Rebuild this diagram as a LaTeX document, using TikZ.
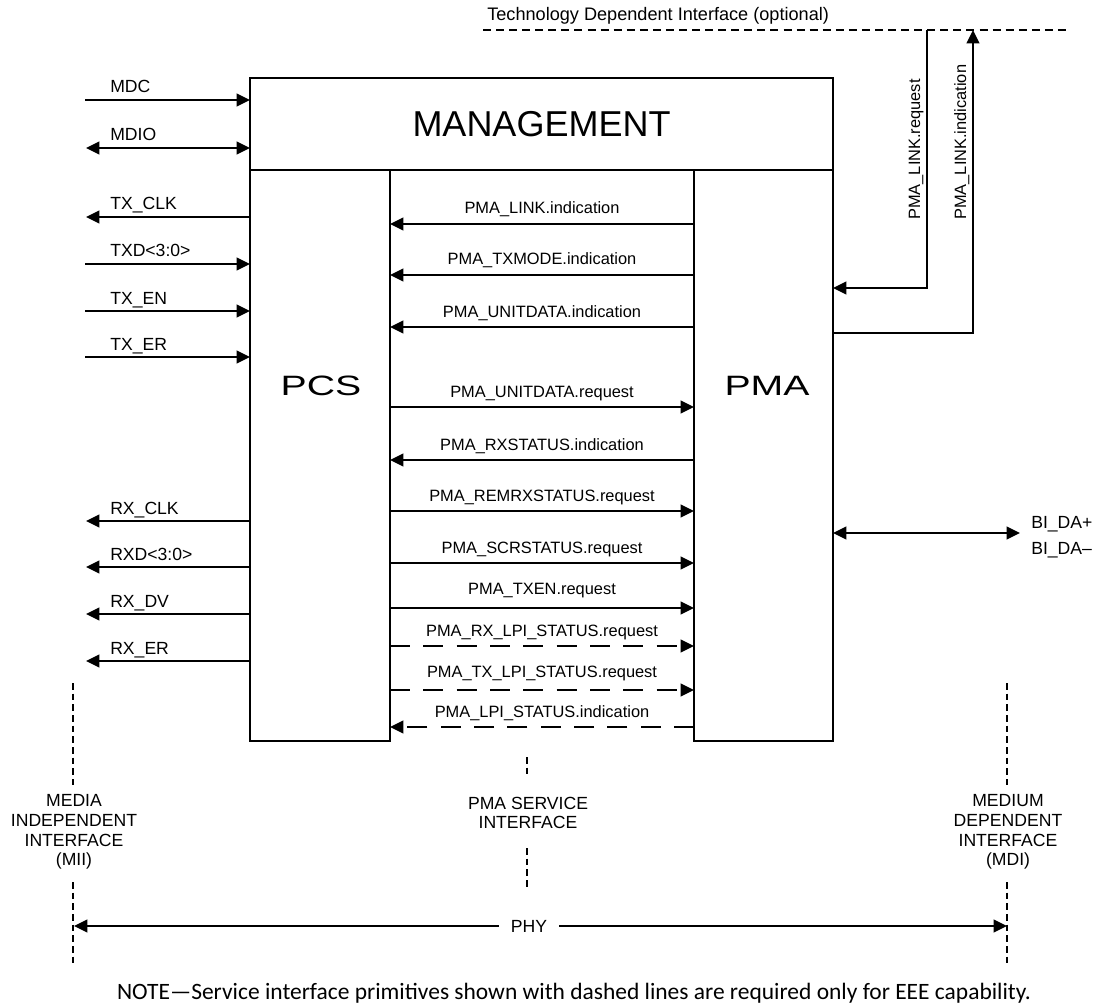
\documentclass[tikz,border=0pt]{standalone}
\usepackage{fontspec}
\setmainfont{Liberation Sans}
\newfontfamily\notefont{Carlito}
\usetikzlibrary{arrows.meta}
\begin{document}
\begin{tikzpicture}[x=0.75pt,y=-0.75pt,
  box/.style={draw, line width=1.9pt, inner sep=0pt, outer sep=0pt},
  sig/.style={line width=1.5pt, -{Triangle[length=10pt,width=9.5pt]}},
  bisig/.style={line width=1.5pt, {Triangle[length=10pt,width=9.5pt]}-{Triangle[length=10pt,width=9.5pt]}},
  dsig/.style={sig, dash pattern=on 15pt off 10pt},
  ifc/.style={line width=1.1pt, dash pattern=on 5pt off 3pt},
  tdline/.style={line width=1.1pt, dash pattern=on 6pt off 3.8pt},
  llbl/.style={font=\fontsize{13.2}{15}\selectfont, anchor=base west, inner sep=0pt},
  mlbl/.style={font=\fontsize{12.3}{15}\selectfont, anchor=base, inner sep=0pt, yshift=7.5pt},
  rlbl/.style={font=\fontsize{12.3}{15}\selectfont, anchor=base west, inner sep=0pt, rotate=90},
  iflbl/.style={font=\fontsize{13.2}{14.8}\selectfont, align=center, inner sep=0pt},
  biglbl/.style={font=\fontsize{21}{24}\selectfont, inner sep=0pt},
]
\useasboundingbox[fill=white] (0,0) rectangle (1094,1005);

% ---------- boxes ----------
\node[box, minimum width=437.25pt, minimum height=69pt,
      font=\fontsize{27}{30}\selectfont] (mgmt) at (541.5,124) {MANAGEMENT};
\node[box, minimum width=105pt, minimum height=428.25pt] (pcs) at (320,455.5) {};
\node[box, minimum width=104.25pt, minimum height=428.25pt] (pma) at (763.5,455.5) {};
\node[biglbl] (pcst) at (321,386) {\scalebox{1.4}[1]{PCS}};
\node[biglbl] (pmat) at (767,386) {\scalebox{1.4}[1]{PMA}};

% ---------- left (MII) signals ----------
\coordinate (mdc)   at (85,100);
\coordinate (mdio)  at (86,148);
\coordinate (txclk) at (86,217);
\coordinate (txd)   at (85,264);
\coordinate (txen)  at (85,311);
\coordinate (txer)  at (85,357);
\coordinate (rxclk) at (86,521);
\coordinate (rxd)   at (86,567);
\coordinate (rxdv)  at (86,614);
\coordinate (rxer)  at (86,661);

\draw[sig]   (mdc) -- (mdc -| mgmt.west);
\draw[bisig] (mdio) -- (mdio -| mgmt.west);
\draw[sig]   (txclk -| pcs.west) -- (txclk);
\draw[sig]   (txd) -- (txd -| pcs.west);
\draw[sig]   (txen) -- (txen -| pcs.west);
\draw[sig]   (txer) -- (txer -| pcs.west);
\draw[sig]   (rxclk -| pcs.west) -- (rxclk);
\draw[sig]   (rxd -| pcs.west) -- (rxd);
\draw[sig]   (rxdv -| pcs.west) -- (rxdv);
\draw[sig]   (rxer -| pcs.west) -- (rxer);

\node[llbl] (lmdc)   at (110,93)  {MDC};
\node[llbl] (lmdio)  at (110,141) {MDIO};
\node[llbl] (ltxclk) at (110,210) {TX\_CLK};
\node[llbl] (ltxd)   at (110,257) {TXD<3:0>};
\node[llbl] (ltxen)  at (110,304) {TX\_EN};
\node[llbl] (ltxer)  at (110,350) {TX\_ER};
\node[llbl] (lrxclk) at (110,514) {RX\_CLK};
\node[llbl] (lrxd)   at (110,560) {RXD<3:0>};
\node[llbl] (lrxdv)  at (110,607) {RX\_DV};
\node[llbl] (lrxer)  at (110,654) {RX\_ER};

% ---------- PCS <-> PMA primitives ----------
\coordinate (m1)  at (0,224);
\coordinate (m2)  at (0,275);
\coordinate (m3)  at (0,327);
\coordinate (m4)  at (0,407);
\coordinate (m5)  at (0,460);
\coordinate (m6)  at (0,511);
\coordinate (m7)  at (0,563);
\coordinate (m8)  at (0,608);
\coordinate (m9)  at (0,646);
\coordinate (m10) at (0,690);
\coordinate (m11) at (0,727);

\draw[sig]  (pma.west |- m1) -- (pcs.east |- m1) node[mlbl, midway] (p1) {PMA\_LINK.indication};
\draw[sig]  (pma.west |- m2) -- (pcs.east |- m2) node[mlbl, midway] (p2) {PMA\_TXMODE.indication};
\draw[sig]  (pma.west |- m3) -- (pcs.east |- m3) node[mlbl, midway] (p3) {PMA\_UNITDATA.indication};
\draw[sig]  (pcs.east |- m4) -- (pma.west |- m4) node[mlbl, midway] (p4) {PMA\_UNITDATA.request};
\draw[sig]  (pma.west |- m5) -- (pcs.east |- m5) node[mlbl, midway] (p5) {PMA\_RXSTATUS.indication};
\draw[sig]  (pcs.east |- m6) -- (pma.west |- m6) node[mlbl, midway] (p6) {PMA\_REMRXSTATUS.request};
\draw[sig]  (pcs.east |- m7) -- (pma.west |- m7) node[mlbl, midway] (p7) {PMA\_SCRSTATUS.request};
\draw[sig]  (pcs.east |- m8) -- (pma.west |- m8) node[mlbl, midway, yshift=3pt] (p8) {PMA\_TXEN.request};
\draw[dsig] (pcs.east |- m9) -- (pma.west |- m9) node[mlbl, midway] (p9) {PMA\_RX\_LPI\_STATUS.request};
\draw[dsig] (pcs.east |- m10) -- (pma.west |- m10) node[mlbl, midway, yshift=2pt] (p10) {PMA\_TX\_LPI\_STATUS.request};
\draw[dsig] (pma.west |- m11) -- (pcs.east |- m11) node[mlbl, midway] (p11) {PMA\_LPI\_STATUS.indication};

% ---------- technology dependent interface ----------
\coordinate (tdL) at (483,30);
\coordinate (tdR) at (1068,30);
\draw[tdline] (tdL) -- (tdR);
\node[font=\fontsize{13.6}{15}\selectfont, anchor=base west, inner sep=0pt] (tdi) at (487,21)
  {Technology Dependent Interface (optional)};

\coordinate (lreq) at (927,30);
\coordinate (lind) at (973,30);
\coordinate (lreqy) at (0,288);
\coordinate (lindy) at (0,333);
\draw[sig] (lreq) |- (pma.east |- lreqy);
\draw[sig] (pma.east |- lindy) -| (lind);
\node[rlbl] (tlreq) at (920,220) {PMA\_LINK.request};
\node[rlbl] (tlind) at (966,220) {PMA\_LINK.indication};

% ---------- MDI signals ----------
\coordinate (bida) at (1020,533);
\draw[bisig] (pma.east |- bida) -- (bida);
\node[llbl] (bp) at (1031,528) {BI\_DA+};
\node[llbl] (bm) at (1031,554) {BI\_DA–};

% ---------- interfaces ----------
\coordinate (miiA) at (73,683);
\coordinate (miiB) at (73,785);
\coordinate (miiC) at (73,882);
\coordinate (miiD) at (73,963);
\draw[ifc] (miiA) -- (miiB);
\draw[ifc] (miiC) -- (miiD);
\node[iflbl] (mii) at (74,832) {MEDIA\\INDEPENDENT\\INTERFACE\\(MII)};

\coordinate (psiA) at (527,757);
\coordinate (psiB) at (527,778);
\coordinate (psiC) at (527,848);
\coordinate (psiD) at (527,890);
\draw[ifc] (psiA) -- (psiB);
\draw[ifc] (psiC) -- (psiD);
\node[iflbl] (psi) at (528,813) {PMA SERVICE\\INTERFACE};

\coordinate (mdiA) at (1007,683);
\coordinate (mdiB) at (1007,785);
\coordinate (mdiC) at (1007,882);
\coordinate (mdiD) at (1007,963);
\draw[ifc] (mdiA) -- (mdiB);
\draw[ifc] (mdiC) -- (mdiD);
\node[iflbl] (mdi) at (1008,832) {MEDIUM\\DEPENDENT\\INTERFACE\\(MDI)};

% ---------- PHY ----------
\node[font=\fontsize{13.2}{15}\selectfont, inner xsep=9pt, inner ysep=0pt] (phy) at (529,926) {PHY};
\coordinate (phyL) at (74,926);
\coordinate (phyR) at (1007,926);
\draw[sig] (phy.west) -- (phyL);
\draw[sig] (phy.east) -- (phyR);

% ---------- note ----------
\node[font=\notefont\fontsize{17.6}{20}\selectfont, inner sep=0pt] (note) at (574,993)
  {NOTE—Service interface primitives shown with dashed lines are required only for EEE capability.};
\end{tikzpicture}
\end{document}
